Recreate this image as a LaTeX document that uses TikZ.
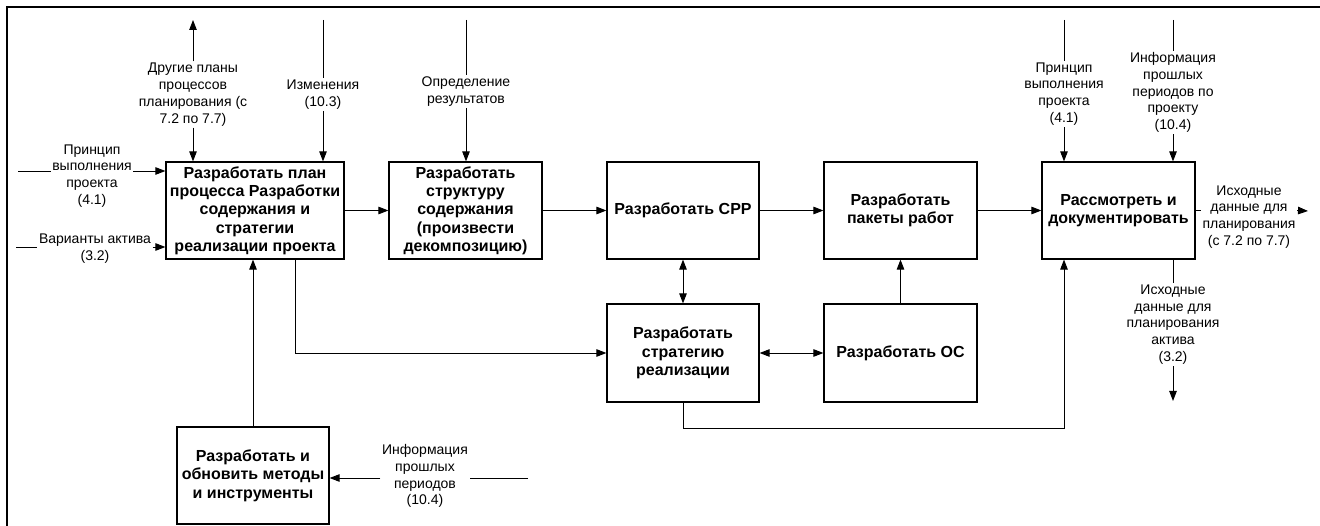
\documentclass[tikz,border=0pt]{standalone}
\usepackage{fontspec}
\setmainfont{Liberation Sans}
\usetikzlibrary{arrows.meta}
\begin{document}
\begin{tikzpicture}[x=1pt,y=-1pt,
  proc/.style={draw, line width=1.2pt, minimum width=#1, minimum height=97pt,
    align=center, font=\bfseries\fontsize{16}{18.3}\selectfont, inner sep=0pt},
  lbl/.style={align=center, font=\fontsize{14}{16.8}\selectfont, inner sep=1.5pt},
  link/.style={line width=0.9pt},
  arr/.style={link, -{Triangle[length=10pt,width=7.5pt]}},
  darr/.style={link, {Triangle[length=10pt,width=7.5pt]}-{Triangle[length=10pt,width=7.5pt]}}]
\useasboundingbox (0,0) rectangle (1320,526);
% frame
\draw[line width=2.5pt] (7,526) -- (7,7) -- (1320,7);

% process boxes
\node[proc=178pt] (A) at (255,210.5) {Разработать план\\процесса Разработки\\содержания и\\стратегии\\реализации проекта};
\node[proc=153pt] (B) at (465.5,210.5) {Разработать\\структуру\\содержания\\(произвести\\декомпозицию)};
\node[proc=152pt] (C) at (683,210.5) {Разработать СРР};
\node[proc=153pt] (D) at (900.5,210.5) {Разработать\\пакеты работ};
\node[proc=153pt] (E) at (1118.5,210.5) {Рассмотреть и\\документировать};
\node[proc=152pt, minimum height=98pt] (F) at (683,353) {Разработать\\стратегию\\реализации};
\node[proc=153pt, minimum height=98pt] (OC) at (900.5,353) {Разработать ОС};
\node[proc=152pt] (G) at (253,475.5) {Разработать и\\обновить методы\\и инструменты};

% labels
\node[lbl] (lOther) at (193,94.5) {Другие планы\\процессов\\планирования (с\\7.2 по 7.7)};
\node[lbl] (lChg) at (323,94.5) {Изменения\\(10.3)};
\node[lbl] (lDef) at (466,91.5) {Определение\\результатов};
\node[lbl] (lPrin) at (92,176) {Принцип\\выполнения\\проекта\\(4.1)};
\node[lbl] (lVar) at (95,248.5) {Варианты актива\\(3.2)};
\node[lbl] (lPrinE) at (1064,94) {Принцип\\выполнения\\проекта\\(4.1)};
\node[lbl] (lHist) at (1173,92.5) {Информация\\прошлых\\периодов по\\проекту\\(10.4)};
\node[lbl] (lOutR) at (1249,217) {Исходные\\данные для\\планирования\\(с 7.2 по 7.7)};
\node[lbl] (lOutB) at (1173,324.5) {Исходные\\данные для\\планирования\\актива\\(3.2)};
\node[lbl] (lHistG) at (425,476) {Информация\\прошлых\\периодов\\(10.4)};

% free ends
\coordinate (tOther) at (193,20);
\coordinate (tChg) at (323,20);
\coordinate (tDef) at (466,20);
\coordinate (eIn1) at (1064,20);
\coordinate (eIn2) at (1173,20);
\coordinate (sPrin) at (18,171);
\coordinate (sVar) at (16,247);
\coordinate (eR) at (1308,211);
\coordinate (eB) at (1173,401);
\coordinate (gIn) at (528,478);
\coordinate (aDown) at (295,0);
\coordinate (low) at (0,428);

% main chain
\draw[arr] (A) -- (B);
\draw[arr] (B) -- (C);
\draw[arr] (C) -- (D);
\draw[arr] (D) -- (E);
\draw[darr] (C) -- (F);
\draw[darr] (F) -- (OC);
\draw[arr] (OC) -- (D);
\draw[arr] (G) -- (G.north |- A.south);
\draw[arr] (A.south -| aDown) |- (F.west);
\draw[arr] (F.south) -- (F.south |- low) -| (eIn1 |- E.south);

% controls from above
\draw[arr] (lOther) -- (tOther);
\draw[arr] (lOther) -- (lOther |- A.north);
\draw[link] (tChg) -- (lChg);
\draw[arr] (lChg) -- (lChg |- A.north);
\draw[link] (tDef) -- (lDef);
\draw[arr] (lDef) -- (lDef |- B.north);
\draw[link] (eIn1) -- (lPrinE);
\draw[arr] (lPrinE) -- (lPrinE |- E.north);
\draw[link] (eIn2) -- (lHist);
\draw[arr] (lHist) -- (lHist |- E.north);

% inputs from the left
\draw[link] (sPrin) -- (sPrin -| lPrin.west);
\draw[arr] (sPrin -| lPrin.east) -- (sPrin -| A.west);
\draw[link] (sVar) -- (sVar -| lVar.west);
\draw[arr] (sVar -| lVar.east) -- (sVar -| A.west);

% outputs
\draw[link] (E.east) -- (E.east -| lOutR.west);
\draw[arr] (E.east -| lOutR.east) -- (eR);
\draw[link] (eB |- E.south) -- (lOutB);
\draw[arr] (lOutB) -- (eB);

% input to the methods box
\draw[link] (gIn) -- (gIn -| lHistG.east);
\draw[arr] (gIn -| lHistG.west) -- (gIn -| G.east);
\end{tikzpicture}
\end{document}
